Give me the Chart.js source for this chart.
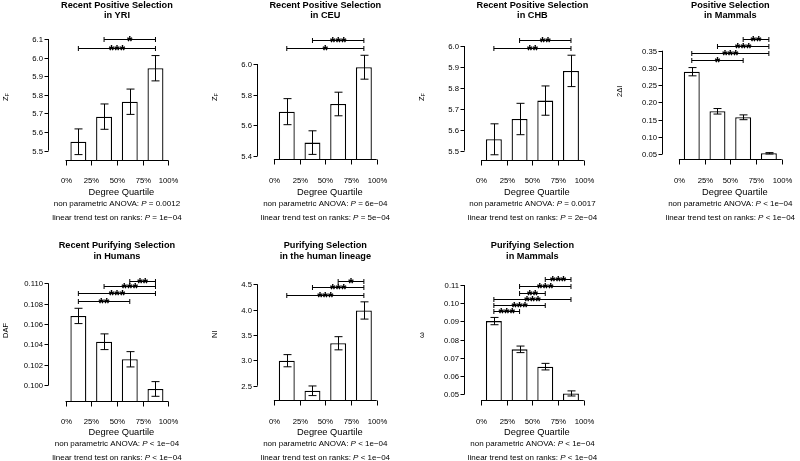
<!DOCTYPE html>
<html>
<head>
<meta charset="utf-8">
<script src="https://cdn.jsdelivr.net/npm/chart.js@4.4.1/dist/chart.umd.min.js"></script>
<style>
  body { margin: 0; background: #fff; width: 800px; height: 461px; position: relative; overflow: hidden; }
  canvas { position: absolute; }
</style>
</head>
<body>
<canvas id="c0" width="200" height="230" style="left:0px;top:0px"></canvas>
<canvas id="c1" width="200" height="230" style="left:200px;top:0px"></canvas>
<canvas id="c2" width="200" height="230" style="left:400px;top:0px"></canvas>
<canvas id="c3" width="200" height="230" style="left:600px;top:0px"></canvas>
<canvas id="c4" width="200" height="231" style="left:0px;top:230px"></canvas>
<canvas id="c5" width="200" height="231" style="left:200px;top:230px"></canvas>
<canvas id="c6" width="200" height="231" style="left:400px;top:230px"></canvas>
<script>
// quartile tick labels on the x axis, and the four bins between them
const quartileLabels = ['0%', '25%', '50%', '75%', '100%'];
const quartileBins = ['0-25%', '25-50%', '50-75%', '75-100%'];

// Recent positive selection in YRI (Z_F)
const yriValues = [5.548, 5.683, 5.763, 5.943];
const yriErrors = [0.069, 0.068, 0.068, 0.068];
const yriTicks = [5.5, 5.6, 5.7, 5.8, 5.9, 6.0, 6.1];
const yriBrackets = [[1, 3, 6.1, '*'], [0, 3, 6.053, '***']];

// Recent positive selection in CEU
const ceuValues = [5.689, 5.487, 5.739, 5.979];
const ceuErrors = [0.085, 0.077, 0.077, 0.078];
const ceuTicks = [5.4, 5.6, 5.8, 6.0];
const ceuBrackets = [[1, 3, 6.157, '***'], [0, 3, 6.106, '*']];

// Recent positive selection in CHB
const chbValues = [5.554, 5.651, 5.739, 5.881];
const chbErrors = [0.074, 0.075, 0.070, 0.075];
const chbTicks = [5.5, 5.6, 5.7, 5.8, 5.9, 6.0];
const chbBrackets = [[1, 3, 6.029, '**'], [0, 3, 5.992, '**']];

// Positive selection in mammals (2ΔI)
const posMamValues = [0.289, 0.174, 0.1566, 0.052];
const posMamErrors = [0.012, 0.008, 0.007, 0.002];
const posMamTicks = [0.05, 0.10, 0.15, 0.20, 0.25, 0.30, 0.35];
const posMamBrackets = [[2, 3, 0.384, '**'], [1, 3, 0.365, '***'], [0, 3, 0.342, '***'], [0, 2, 0.322, '*']];

// Recent purifying selection in humans (DAF)
const dafValues = [0.1068, 0.10427, 0.10255, 0.09964];
const dafErrors = [0.00075, 0.00077, 0.00075, 0.00072];
const dafTicks = [0.100, 0.102, 0.104, 0.106, 0.108, 0.110];
const dafBrackets = [[2, 3, 0.11025, '**'], [1, 3, 0.10974, '***'], [0, 3, 0.10902, '***'], [0, 2, 0.1083, '**']];

// Purifying selection in the human lineage (NI)
const niValues = [2.993, 2.40, 3.337, 3.984];
const niErrors = [0.12, 0.095, 0.13, 0.17];
const niTicks = [2.5, 3.0, 3.5, 4.0, 4.5];
const niBrackets = [[2, 3, 4.572, '*'], [1, 3, 4.453, '***'], [0, 3, 4.29, '***']];

// Purifying selection in mammals (omega)
const omegaValues = [0.0902, 0.0747, 0.0652, 0.0505];
const omegaErrors = [0.0020, 0.0018, 0.0018, 0.0014];
const omegaTicks = [0.05, 0.06, 0.07, 0.08, 0.09, 0.10, 0.11];
const omegaBrackets = [[2, 3, 0.11302, '***'], [1, 3, 0.10929, '***'], [1, 2, 0.10587, '**'],
                       [0, 3, 0.10220, '***'], [0, 2, 0.09918, '***'], [0, 1, 0.09572, '***']];

const titles = [
  ['Recent Positive Selection', 'in YRI'],
  ['Recent Positive Selection', 'in CEU'],
  ['Recent Positive Selection', 'in CHB'],
  ['Positive Selection', 'in Mammals'],
  ['Recent Purifying Selection', 'in Humans'],
  ['Purifying Selection', 'in the human lineage'],
  ['Purifying Selection', 'in Mammals']
];
const yTitles = [['Z', 'F'], ['Z', 'F'], ['Z', 'F'], ['2ΔI'], ['DAF'], ['NI'], ['ω']];
const anovaP = ['= 0.0012', '= 6e\u221204', '= 0.0017', '< 1e\u221204', '< 1e\u221204', '< 1e\u221204', '< 1e\u221204'];
const trendP = ['= 1e\u221204', '= 5e\u221204', '= 2e\u221204', '< 1e\u221204', '< 1e\u221204', '< 1e\u221204', '< 1e\u221204'];

const series = [
  [yriValues, yriErrors, yriTicks, yriBrackets],
  [ceuValues, ceuErrors, ceuTicks, ceuBrackets],
  [chbValues, chbErrors, chbTicks, chbBrackets],
  [posMamValues, posMamErrors, posMamTicks, posMamBrackets],
  [dafValues, dafErrors, dafTicks, dafBrackets],
  [niValues, niErrors, niTicks, niBrackets],
  [omegaValues, omegaErrors, omegaTicks, omegaBrackets]
];

// layout of each panel: y-axis x, plot top/bottom in canvas px, y value at the bar base, tick decimals
const layout = [
  { axisX: 48.3, top: 39,   bottom: 160,   yMin: 5.45,    dec: 1, row: 0 },
  { axisX: 56.7, top: 64,   bottom: 159,   yMin: 5.38,    dec: 1, row: 0 },
  { axisX: 63.8, top: 46,   bottom: 160,   yMin: 5.455,   dec: 1, row: 0 },
  { axisX: 61.7, top: 50.7, bottom: 159.3, yMin: 0.0346,  dec: 2, row: 0 },
  { axisX: 48.3, top: 53.3, bottom: 171,   yMin: 0.09846, dec: 3, row: 1 },
  { axisX: 56.7, top: 54.3, bottom: 170,   yMin: 2.218,   dec: 1, row: 1 },
  { axisX: 63.8, top: 55,   bottom: 170,   yMin: 0.0469,  dec: 2, row: 1 }
];
// per row: title lines, tick labels, xlab, anova, trend, ylab centre
const rowText = [
  { title: [5.5, 15.5], tick: 181, xlab: 192.7, anova: 203.8, trend: 218, ylab: 97 },
  { title: [15.5, 26], tick: 191.7, xlab: 202.5, anova: 213.5, trend: 227.7, ylab: 108 }
];

const FONT = '"Liberation Sans", Arial, Helvetica, sans-serif';
const BIN_W = 25.7;      // px per quartile bin
const AXIS_GAP = 0.67;   // gap between y axis and 0% tick, in bins

function seg(ctx, x1, y1, x2, y2) {
  ctx.beginPath();
  ctx.moveTo(x1, y1);
  ctx.lineTo(x2, y2);
  ctx.stroke();
}

// draw text made of several font runs, centred on cx
function mixedText(ctx, parts, cx, cy) {
  let w = 0;
  parts.forEach(([t, f]) => { ctx.font = f; w += ctx.measureText(t).width; });
  let x = cx - w / 2;
  ctx.textAlign = 'left';
  parts.forEach(([t, f]) => { ctx.font = f; ctx.fillText(t, x, cy); x += ctx.measureText(t).width; });
}

const rPlot = {
  id: 'rPlot',
  afterDatasetsDraw(chart, args, o) {
    const { ctx, chartArea: a, scales: { x, y } } = chart;
    const rt = rowText[o.row];
    ctx.save();
    ctx.strokeStyle = '#000';
    ctx.fillStyle = '#000';
    ctx.lineWidth = 1;

    // error bars
    o.values.forEach((v, i) => {
      const px = Math.round(x.getPixelForValue(i)) + 0.5;
      const t = y.getPixelForValue(v + o.errors[i]);
      const b = y.getPixelForValue(v - o.errors[i]);
      seg(ctx, px, t, px, b);
      seg(ctx, px - 4, t, px + 4, t);
      seg(ctx, px - 4, b, px + 4, b);
    });

    // y axis, R style: only between first and last tick, set off left of the bars
    const ax = Math.round(x.getPixelForValue(-0.5 - AXIS_GAP)) + 0.5;
    seg(ctx, ax, y.getPixelForValue(o.ticks[0]), ax, y.getPixelForValue(o.ticks[o.ticks.length - 1]));
    ctx.font = '7.7px ' + FONT;
    ctx.textAlign = 'right';
    ctx.textBaseline = 'middle';
    o.ticks.forEach(t => {
      const py = Math.round(y.getPixelForValue(t)) + 0.5;
      seg(ctx, ax - 4, py, ax, py);
      ctx.fillText(t.toFixed(o.dec), ax - 5.5, py);
    });

    // x axis at the bar base, ticks on the quartile boundaries
    const by = Math.round(a.bottom) + 0.5;
    seg(ctx, x.getPixelForValue(-0.5), by, x.getPixelForValue(3.5), by);
    ctx.textAlign = 'center';
    quartileLabels.forEach((lab, k) => {
      const px = Math.round(x.getPixelForValue(k - 0.5)) + 0.5;
      seg(ctx, px, by, px, by + 5);
      ctx.fillText(lab, px, rt.tick);
    });

    // significance brackets
    o.brackets.forEach(([i, j, v, s]) => {
      const xa = x.getPixelForValue(i), xb = x.getPixelForValue(j);
      const py = Math.round(y.getPixelForValue(v)) + 0.5;
      seg(ctx, xa, py, xb, py);
      seg(ctx, xa, py - 2.5, xa, py + 2.5);
      seg(ctx, xb, py - 2.5, xb, py + 2.5);
      ctx.font = 'bold 14px ' + FONT;
      ctx.textAlign = 'center';
      ctx.textBaseline = 'alphabetic';
      ctx.fillText(s, (xa + xb) / 2, py + 6.5);
    });

    // titles and labels
    const cx = x.getPixelForValue(1.5);
    ctx.textBaseline = 'middle';
    ctx.textAlign = 'center';
    ctx.font = 'bold 9.2px ' + FONT;
    ctx.fillText(o.title[0], cx, rt.title[0]);
    ctx.fillText(o.title[1], cx, rt.title[1]);
    ctx.font = '9.3px ' + FONT;
    ctx.fillText('Degree Quartile', cx + 4.5, rt.xlab);
    const reg = '8px ' + FONT, ital = 'italic 8px ' + FONT;
    mixedText(ctx, [['non parametric ANOVA: ', reg], ['P', ital], [' ' + o.anova, reg]], cx, rt.anova);
    mixedText(ctx, [['linear trend test on ranks: ', reg], ['P', ital], [' ' + o.trend, reg]], cx, rt.trend);

    // rotated y label
    ctx.translate(ax - 43, rt.ylab);
    ctx.rotate(-Math.PI / 2);
    if (o.ylab.length === 2) {
      const f1 = '7.5px ' + FONT, f2 = '5.5px ' + FONT;
      ctx.font = f1; const w1 = ctx.measureText(o.ylab[0]).width;
      ctx.font = f2; const w2 = ctx.measureText(o.ylab[1]).width;
      ctx.textAlign = 'left';
      ctx.font = f1; ctx.fillText(o.ylab[0], -(w1 + w2) / 2, 0);
      ctx.font = f2; ctx.fillText(o.ylab[1], -(w1 + w2) / 2 + w1, 2);
    } else {
      ctx.font = '7.5px ' + FONT;
      ctx.fillText(o.ylab[0], 0, 0);
    }
    ctx.restore();
  }
};

series.forEach(([values, errors, ticks, brackets], p) => {
  const L = layout[p];
  const cv = document.getElementById('c' + p);
  const left = L.axisX + AXIS_GAP * BIN_W;
  new Chart(cv, {
    type: 'bar',
    data: {
      labels: quartileBins,
      datasets: [{
        data: values,
        backgroundColor: '#fff',
        borderColor: '#000',
        borderWidth: 1.3,
        borderSkipped: false,
        categoryPercentage: 1,
        barPercentage: 0.62
      }]
    },
    options: {
      responsive: false,
      animation: false,
      layout: {
        padding: { left: left, right: cv.width - left - 4 * BIN_W, top: L.top, bottom: cv.height - L.bottom }
      },
      scales: {
        x: { display: false },
        y: { min: L.yMin, max: ticks[ticks.length - 1], display: false }
      },
      plugins: {
        legend: { display: false },
        tooltip: { enabled: false },
        rPlot: {
          values, errors, ticks, brackets, dec: L.dec, row: L.row,
          title: titles[p], ylab: yTitles[p], anova: anovaP[p], trend: trendP[p]
        }
      }
    },
    plugins: [rPlot]
  });
});
</script>
</body>
</html>
